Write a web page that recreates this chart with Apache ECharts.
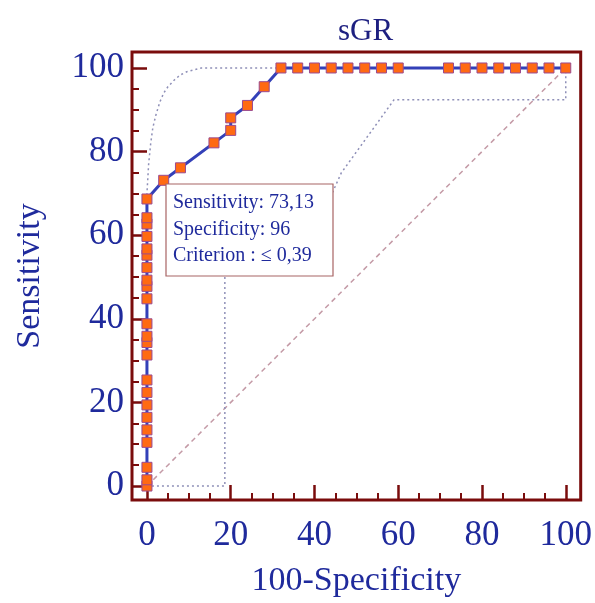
<!DOCTYPE html>
<html>
<head>
<meta charset="utf-8">
<script src="https://cdn.jsdelivr.net/npm/echarts@6/dist/echarts.min.js"></script>
<style>
html,body{margin:0;padding:0;background:#fff;}
#chart{width:595px;height:603px;}
</style>
</head>
<body>
<div id="chart"></div>
<script>
// ROC curve points (100-Specificity, Sensitivity)
var rocX = [0,0,0,0,0,0,0,0,0,0,0,0,0,0,0,0,0,0,0,0,0,0,0,
  4,8,16,20,20,24,28,32,36,40,44,48,52,56,60,72,76,80,84,88,92,96,100];
var rocY = [0,1.49,4.48,10.45,13.43,16.42,19.40,22.39,25.37,31.34,34.33,35.82,38.81,44.78,47.76,49.25,52.24,55.22,56.72,59.70,62.69,64.18,68.66,
  73.13,76.12,82.09,85.07,88.06,91.04,95.52,100,100,100,100,100,100,100,100,100,100,100,100,100,100,100,100];
// upper confidence bound
var upX = [0,0,0.4,0.9,1.4,2.2,3.1,4.0,5.0,6.4,7.9,9.5,11,13,32,100];
var upY = [60,70,77,82,85.7,89,91.9,94,95.5,97,98.3,99.1,99.5,100,100,100];
// lower confidence bound
var loX = [0,18.6,18.6,30,44.3,46.4,59,100,100];
var loY = [0,0,56,63,70.2,74.9,92.4,92.4,100];
// reference diagonal
var diagX = [0,100];
var diagY = [0,100];
// tick labels and tick positions
var xTicks = [0,20,40,60,80,100];
var yTicks = [0,20,40,60,80,100];
var minorTicks = [5,10,15,25,30,35,45,50,55,65,70,75,85,90,95];
var annotLines = ['Sensitivity: 73,13','Specificity: 96','Criterion : \u2264 0,39'];

function pairs(xs, ys){ return xs.map(function(x,i){ return [x, ys[i]]; }); }

var SERIF = "'Liberation Serif','Times New Roman',serif";
var MAROON = '#7a0c0c';
var BLUE = '#1f2a9c';

// frame (grid) extent in data units
var XMIN = -3.57, XMAX = 103.57, YMIN = -3.34, YMAX = 103.82;

function xAxisDef(major){
  return {
    type: 'value', min: XMIN, max: XMAX, position: 'bottom',
    axisLine: {show: false, onZero: false},
    axisTick: {show: true, inside: true, length: major ? 15 : 7,
      customValues: major ? xTicks : minorTicks,
      lineStyle: {color: MAROON, width: major ? 2.5 : 2}},
    splitLine: {show: false},
    axisLabel: major ? {show: true, customValues: xTicks, margin: 18, fontFamily: SERIF, fontSize: 35, color: BLUE}
                     : {show: false},
    name: major ? '100-Specificity' : '', nameLocation: 'middle', nameGap: 64,
    nameTextStyle: {fontFamily: SERIF, fontSize: 34, color: BLUE}
  };
}
function yAxisDef(major){
  return {
    type: 'value', min: YMIN, max: YMAX, position: 'left',
    axisLine: {show: false, onZero: false},
    axisTick: {show: true, inside: true, length: major ? 15 : 7,
      customValues: major ? yTicks : minorTicks,
      lineStyle: {color: MAROON, width: major ? 2.5 : 2}},
    splitLine: {show: false},
    axisLabel: major ? {show: true, customValues: yTicks, margin: 8, fontFamily: SERIF, fontSize: 35, color: BLUE}
                     : {show: false},
    name: major ? 'Sensitivity' : '', nameLocation: 'middle', nameGap: 85, nameRotate: 90,
    nameTextStyle: {fontFamily: SERIF, fontSize: 34, color: BLUE}
  };
}

var chart = echarts.init(document.getElementById('chart'));
var option = {
  animation: false,
  backgroundColor: '#fff',
  title: {
    text: 'sGR', left: 333, top: 11,
    textStyle: {fontFamily: SERIF, fontSize: 31, fontWeight: 'normal', color: '#1d1f80'}
  },
  grid: {left: 132, right: 13, top: 52, bottom: 102, show: true,
    borderColor: MAROON, borderWidth: 3, backgroundColor: 'transparent'},
  xAxis: [xAxisDef(true), xAxisDef(false)],
  yAxis: [yAxisDef(true), yAxisDef(false)],
  series: [
    {type: 'line', data: pairs(diagX, diagY), symbol: 'none', clip: false, z: 1,
      lineStyle: {color: '#c49aa6', width: 1.5, type: [5, 4]}},
    {type: 'line', data: pairs(upX, upY), symbol: 'none', clip: false, z: 1,
      lineStyle: {color: '#8f90b8', width: 1.5, type: [2, 3]}},
    {type: 'line', data: pairs(loX, loY), symbol: 'none', clip: false, z: 1,
      lineStyle: {color: '#8f90b8', width: 1.5, type: [2, 3]}},
    {type: 'line', data: pairs(rocX, rocY), symbol: 'rect', symbolSize: 10, clip: false, z: 5,
      lineStyle: {color: '#3340b8', width: 3},
      itemStyle: {color: '#ff6a12', borderColor: '#9a4a90', borderWidth: 1}}
  ],
  graphic: [
    {type: 'rect', z: 100, silent: true, shape: {x: 166, y: 184, width: 167, height: 92},
      style: {fill: '#fff', stroke: '#a86464', lineWidth: 1.2}},
    {type: 'text', z: 101, x: 173, y: 203, style: {text: annotLines[0], font: '20px ' + SERIF, fill: BLUE, verticalAlign: 'middle'}},
    {type: 'text', z: 101, x: 173, y: 230, style: {text: annotLines[1], font: '20px ' + SERIF, fill: BLUE, verticalAlign: 'middle'}},
    {type: 'text', z: 101, x: 173, y: 256, style: {text: annotLines[2], font: '20px ' + SERIF, fill: BLUE, verticalAlign: 'middle'}}
  ]
};
chart.setOption(option);
</script>
</body>
</html>
